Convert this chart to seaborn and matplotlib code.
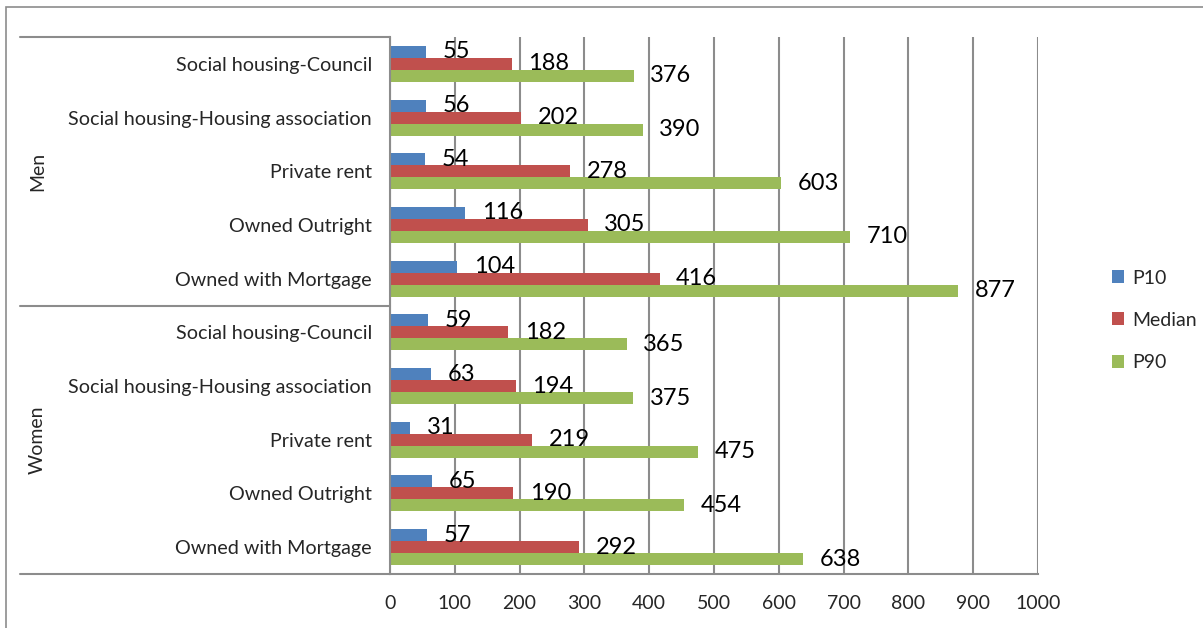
import pandas as pd
import numpy as np
import matplotlib
matplotlib.use("Agg")
import matplotlib.pyplot as plt
import matplotlib.transforms as mtransforms
from matplotlib.patches import Rectangle, Patch
from matplotlib.lines import Line2D
import seaborn as sns

# data
groups = ["Men"] * 5 + ["Women"] * 5
tenures = ["Social housing-Council", "Social housing-Housing association",
           "Private rent", "Owned Outright", "Owned with Mortgage"] * 2
p10 = [55, 56, 54, 116, 104, 59, 63, 31, 65, 57]
median = [188, 202, 278, 305, 416, 182, 194, 219, 190, 292]
p90 = [376, 390, 603, 710, 877, 365, 375, 475, 454, 638]
series_names = ["P10", "Median", "P90"]
series_colors = ["#4F81BD", "#C0504D", "#9BBB59"]
x_ticks = [0, 100, 200, 300, 400, 500, 600, 700, 800, 900, 1000]

sns.set_style("white")
plt.rcParams["font.family"] = ["Lato", "DejaVu Sans"]

keys = [f"{g}|{t}" for g, t in zip(groups, tenures)]
df = pd.DataFrame({"key": keys, "P10": p10, "Median": median, "P90": p90})
long_df = df.melt(id_vars="key", var_name="series", value_name="value")

fig = plt.figure(figsize=(12.03, 6.28), dpi=100)
ax = fig.add_axes([390 / 1203, 1 - 574 / 628, 648 / 1203, 537 / 628])

sns.barplot(data=long_df, y="key", x="value", hue="series", order=keys,
            hue_order=series_names, palette=series_colors, orient="h",
            width=0.67, linewidth=0, saturation=1, ax=ax, legend=False)

for cont in ax.containers:
    ax.bar_label(cont, fmt="%d", padding=12, fontsize=17, color="black")

grid_col = "#8c8c8c"
ax.set_xlim(0, 1000)
ax.set_xticks(x_ticks)
ax.set_xticklabels([str(v) for v in x_ticks], fontsize=14)
ax.set_yticklabels(tenures, fontsize=14.2)
ax.set_xlabel("")
ax.set_ylabel("")
ax.tick_params(axis="both", length=0)
ax.tick_params(axis="y", pad=13)
ax.tick_params(axis="x", pad=15)
ax.grid(axis="x", color=grid_col, linewidth=1.5)
ax.set_axisbelow(True)
for side in ["top", "right"]:
    ax.spines[side].set_visible(False)
for side in ["left", "bottom"]:
    ax.spines[side].set_color(grid_col)
    ax.spines[side].set_linewidth(1.5)

# group separators on the category axis
trans = mtransforms.blended_transform_factory(ax.transAxes, ax.transData)
x_left = (20 - 390) / 648
for yv in [-0.5, 4.5, 9.5]:
    ax.add_line(Line2D([x_left, 0], [yv, yv], transform=trans, color=grid_col,
                       linewidth=1.5, clip_on=False))
ax.text(x_left + 0.027, 2, "Men", transform=trans, rotation=90,
        ha="center", va="center", fontsize=14)
ax.text(x_left + 0.027, 7, "Women", transform=trans, rotation=90,
        ha="center", va="center", fontsize=14)

# legend
handles = [Patch(facecolor=c, edgecolor="none") for c in series_colors]
fig.legend(handles, series_names, loc="upper left",
           bbox_to_anchor=(1094 / 1203, 1 - 252 / 628), frameon=False,
           fontsize=14, handlelength=0.65, handleheight=0.65,
           handletextpad=0.4, labelspacing=1.3)

# outer chart border
fig.add_artist(Rectangle((6 / 1203, -0.1), 1.2, 1.1 - 7 / 628,
                         transform=fig.transFigure, fill=False,
                         edgecolor="#8c8c8c", linewidth=1.2))

fig.savefig("out.png", dpi=100)
